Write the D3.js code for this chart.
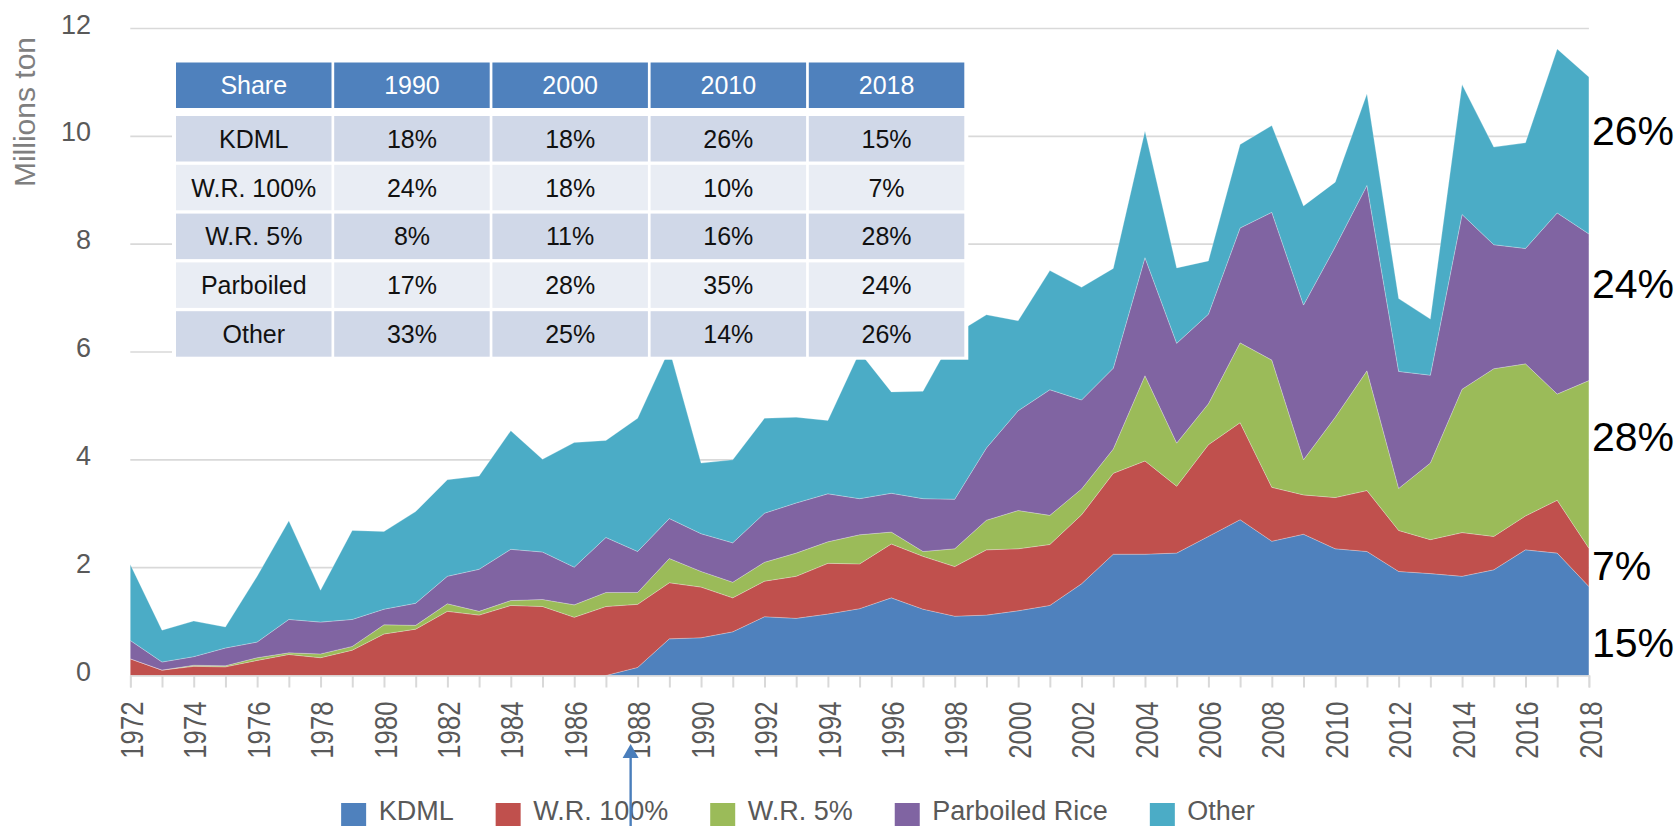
<!DOCTYPE html>
<html>
<head>
<meta charset="utf-8">
<script src="https://cdn.jsdelivr.net/npm/d3@7"></script>
<style>
  body { margin: 0; background: #fff; }
  svg { display: block; }
</style>
</head>
<body>
<div id="chart-container"></div>
<script>
// categories
const years = [1972, 1973, 1974, 1975, 1976, 1977, 1978, 1979, 1980, 1981,
               1982, 1983, 1984, 1985, 1986, 1987, 1988, 1989, 1990, 1991,
               1992, 1993, 1994, 1995, 1996, 1997, 1998, 1999, 2000, 2001,
               2002, 2003, 2004, 2005, 2006, 2007, 2008, 2009, 2010, 2011,
               2012, 2013, 2014, 2015, 2016, 2017, 2018];

// exports, millions ton
const kdml = [0, 0, 0, 0, 0, 0, 0, 0, 0, 0,
              0, 0, 0, 0, 0, 0, 0.15, 0.68, 0.70, 0.81,
              1.09, 1.06, 1.14, 1.24, 1.44, 1.23, 1.10, 1.12, 1.20, 1.30,
              1.70, 2.25, 2.25, 2.27, 2.58, 2.89, 2.49, 2.62, 2.35, 2.30,
              1.93, 1.89, 1.84, 1.96, 2.33, 2.27, 1.65];
const wr100 = [0.31, 0.10, 0.17, 0.16, 0.28, 0.39, 0.33, 0.47, 0.77, 0.86,
               1.19, 1.12, 1.30, 1.28, 1.08, 1.28, 1.17, 1.04, 0.94, 0.63,
               0.66, 0.78, 0.94, 0.83, 1.00, 0.98, 0.92, 1.21, 1.15, 1.13,
               1.28, 1.50, 1.73, 1.24, 1.70, 1.80, 1.00, 0.73, 0.95, 1.13,
               0.76, 0.63, 0.81, 0.62, 0.63, 0.98, 0.71];
const wr5 = [0, 0, 0.02, 0.02, 0.05, 0.03, 0.07, 0.07, 0.17, 0.07,
             0.14, 0.07, 0.09, 0.13, 0.23, 0.26, 0.22, 0.45, 0.29, 0.29,
             0.35, 0.43, 0.40, 0.54, 0.22, 0.09, 0.33, 0.55, 0.71, 0.54,
             0.48, 0.45, 1.58, 0.80, 0.76, 1.48, 2.36, 0.65, 1.49, 2.22,
             0.78, 1.42, 2.66, 3.11, 2.82, 1.97, 3.11];
const parboiled = [0.34, 0.15, 0.16, 0.33, 0.29, 0.62, 0.59, 0.50, 0.29, 0.41,
                   0.51, 0.78, 0.95, 0.88, 0.70, 1.02, 0.76, 0.74, 0.70, 0.73,
                   0.91, 0.93, 0.89, 0.67, 0.72, 0.98, 0.92, 1.34, 1.85, 2.33,
                   1.65, 1.50, 2.19, 1.85, 1.66, 2.13, 2.74, 2.87, 3.16, 3.44,
                   2.17, 1.63, 3.24, 2.30, 2.14, 3.36, 2.72];
const other = [1.41, 0.59, 0.66, 0.39, 1.22, 1.83, 0.59, 1.65, 1.44, 1.70,
               1.79, 1.73, 2.20, 1.72, 2.31, 1.80, 2.47, 3.14, 1.31, 1.54,
               1.76, 1.59, 1.36, 2.72, 1.88, 1.99, 3.06, 2.47, 1.67, 2.21,
               2.09, 1.85, 2.35, 1.40, 0.99, 1.55, 1.61, 1.84, 1.20, 1.70,
               1.35, 1.04, 2.41, 1.81, 1.96, 3.04, 2.91];

const seriesNames = ["KDML", "W.R. 100%", "W.R. 5%", "Parboiled Rice", "Other"];
const yTicks = [0, 2, 4, 6, 8, 10, 12];

// share table
const shareHeader = ["Share", "1990", "2000", "2010", "2018"];
const shareRows = ["KDML", "W.R. 100%", "W.R. 5%", "Parboiled", "Other"];
const share1990 = ["18%", "24%", "8%", "17%", "33%"];
const share2000 = ["18%", "18%", "11%", "28%", "25%"];
const share2010 = ["26%", "10%", "16%", "35%", "14%"];
const share2018 = ["15%", "7%", "28%", "24%", "26%"];

const colors = ["#4F81BD", "#C0504D", "#9BBB59", "#8064A2", "#4BACC6"];
const font = "'Liberation Sans', Arial, sans-serif";

const width = 1675;
const height = 826;

const x = d3.scaleLinear().domain([1972, 2018]).range([130.3, 1588.9]);
const y = d3.scaleLinear().domain([0, 12]).range([675.5, 28.5]);

const keys = seriesNames;
const cols = [kdml, wr100, wr5, parboiled, other];
const rows = years.map((yr, i) => {
  const r = { year: yr };
  keys.forEach((k, j) => r[k] = cols[j][i]);
  return r;
});
const stacked = d3.stack().keys(keys)(rows);

const svg = d3.select("#chart-container").append("svg")
    .attr("width", width)
    .attr("height", height)
    .attr("viewBox", [0, 0, width, height])
    .style("font-family", font);

// gridlines
svg.append("g")
  .selectAll("line")
  .data(yTicks.filter(d => d > 0))
  .join("line")
    .attr("x1", x(1972))
    .attr("x2", x(2018))
    .attr("y1", d => y(d))
    .attr("y2", d => y(d))
    .attr("stroke", "#D9D9D9")
    .attr("stroke-width", 1.6);

// stacked areas
const area = d3.area()
    .x(d => x(d.data.year))
    .y0(d => y(d[0]))
    .y1(d => y(d[1]));

svg.append("g")
  .selectAll("path")
  .data(stacked)
  .join("path")
    .attr("fill", (d, i) => colors[i])
    .attr("stroke", "#ffffff")
    .attr("stroke-opacity", 0.35)
    .attr("stroke-width", 0.7)
    .attr("d", area);

// x axis, labels squeezed a bit to match the narrow original face
const squeeze = 0.83;
const xAxis = svg.append("g")
    .attr("transform", `translate(0,${y(0)})`)
    .call(d3.axisBottom(x)
      .tickValues(years)
      .tickSize(12)
      .tickPadding(0)
      .tickFormat(d => d % 2 === 0 ? String(d) : ""));
xAxis.select(".domain").attr("stroke", "#D9D9D9").attr("stroke-width", 1.6);
xAxis.selectAll(".tick line").attr("stroke", "#D9D9D9").attr("stroke-width", 2);
xAxis.selectAll(".tick text")
    .attr("transform", `rotate(-90) scale(${squeeze},1)`)
    .attr("text-anchor", "end")
    .attr("x", -26 / squeeze)
    .attr("y", 1)
    .attr("dy", "0.36em")
    .attr("fill", "#595959")
    .style("font-family", font)
    .style("font-size", "31px");

// y axis labels
const yAxis = svg.append("g")
    .attr("transform", "translate(91,0)")
    .call(d3.axisLeft(y).tickValues(yTicks).tickSize(0).tickPadding(0));
yAxis.select(".domain").remove();
yAxis.selectAll(".tick text")
    .attr("y", -4)
    .attr("fill", "#595959")
    .style("font-family", font)
    .style("font-size", "27px");

svg.append("text")
    .attr("transform", "translate(24,112) rotate(-90)")
    .attr("text-anchor", "middle")
    .attr("dy", "0.35em")
    .attr("fill", "#7F7F7F")
    .style("font-size", "30px")
    .text("Millions ton");

// share table
const tbl = svg.append("g");
const colStep = 158.2, colW = 155.5, tblLeft = 176;
const headTop = 62.5, headH = 45.5, bodyTop = 116, rowStep = 48.8, rowH = 45.5;
tbl.append("rect")
    .attr("x", tblLeft - 4).attr("y", headTop - 3)
    .attr("width", 4 * colStep + colW + 8)
    .attr("height", bodyTop + 4 * rowStep + rowH - headTop + 6)
    .attr("fill", "#fff");

shareHeader.forEach((h, c) => {
  const cx = tblLeft + c * colStep;
  tbl.append("rect").attr("x", cx).attr("y", headTop)
      .attr("width", colW).attr("height", headH).attr("fill", "#4F81BD");
  tbl.append("text").attr("x", cx + colW / 2).attr("y", headTop + headH / 2)
      .attr("dy", "0.36em").attr("text-anchor", "middle").attr("fill", "#fff")
      .style("font-size", "25px").text(h);
});

const shareCols = [shareRows, share1990, share2000, share2010, share2018];
shareRows.forEach((r, ri) => {
  const ry = bodyTop + ri * rowStep;
  shareCols.forEach((col, c) => {
    const cx = tblLeft + c * colStep;
    tbl.append("rect").attr("x", cx).attr("y", ry)
        .attr("width", colW).attr("height", rowH)
        .attr("fill", ri % 2 === 0 ? "#D0D8E8" : "#E9EDF4");
    tbl.append("text").attr("x", cx + colW / 2).attr("y", ry + rowH / 2)
        .attr("dy", "0.36em").attr("text-anchor", "middle").attr("fill", "#111")
        .style("font-size", "25px").text(col[ri]);
  });
});

// 2018 share labels at right
const last = stacked.map(s => s[s.length - 1]);
const nudge = [26, 13, -13, -9, -10];
svg.append("g")
  .selectAll("text")
  .data(last)
  .join("text")
    .attr("x", x(2018) + 3)
    .attr("y", (d, i) => y((d[0] + d[1]) / 2) + nudge[i])
    .attr("fill", "#000")
    .style("font-size", "41px")
    .text((d, i) => share2018[i]);

// legend
const legend = svg.append("g");
const items = legend.selectAll("g")
  .data(seriesNames)
  .join("g");
items.append("rect")
    .attr("y", 803).attr("width", 25).attr("height", 24)
    .attr("fill", (d, i) => colors[i]);
items.append("text")
    .attr("x", 37.5).attr("y", 819.5)
    .attr("fill", "#595959")
    .style("font-size", "27px")
    .text(d => d);
let pos = 0;
const offs = [];
items.each(function () {
  offs.push(pos);
  pos += 37.5 + this.querySelector("text").getComputedTextLength() + 42;
});
const legendW = pos - 42;
const legendX = 798 - legendW / 2;
items.attr("transform", (d, i) => `translate(${legendX + offs[i]},0)`);

// arrow pointing at 1988
const ax = x(1988) - 7;
svg.append("line")
    .attr("x1", ax).attr("x2", ax)
    .attr("y1", 756).attr("y2", height)
    .attr("stroke", "#4A7EBB").attr("stroke-width", 2.4);
svg.append("path")
    .attr("d", `M${ax},744 L${ax - 8},758 L${ax + 8},758 Z`)
    .attr("fill", "#4A7EBB");
</script>
</body>
</html>
